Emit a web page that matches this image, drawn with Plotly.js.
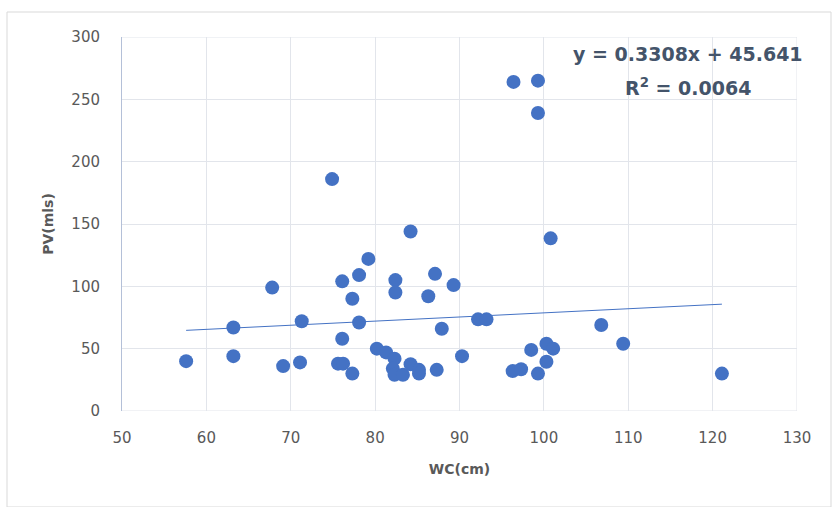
<!DOCTYPE html>
<html>
<head>
<meta charset="utf-8">
<script src="https://cdn.plot.ly/plotly-3.0.1.min.js"></script>
<style>html,body{margin:0;padding:0;background:#fff;}#chart{width:832px;height:507px;}</style>
</head>
<body>
<div id="chart"></div>
<script>
const wc = [57.6,63.2,63.2,67.8,69.1,71.3,71.1,74.9,75.6,76.2,76.1,76.1,77.3,77.3,78.1,78.1,79.2,80.2,81.3,82.3,82.1,82.3,83.3,82.4,82.4,84.2,84.2,85.2,85.2,86.3,87.1,87.3,87.9,89.3,90.3,92.2,93.2,96.4,96.3,97.3,98.5,99.3,99.3,99.3,100.3,101.1,100.3,100.8,106.8,109.4,121.1];
const pv = [40,67,44,99,36,72,39,186,38,38,104,58,90,30,109,71,122,50,47,42,34,29,29,105,95,144,37.5,33,30,92,110,33,66,101,44,73.5,73.5,264,32,33.5,49,265,239,30,54,50,39.5,138.5,69,54,30];
const slope = 0.3308, intercept = 45.641;
const eqText = "y = 0.3308x + 45.641";
const r2Text = "R<sup>2</sup> = 0.0064";
const xTicks = [50,60,70,80,90,100,110,120,130];
const yTicks = [0,50,100,150,200,250,300];

const xMin = Math.min(...wc), xMax = Math.max(...wc);
const trendX = [xMin, xMax];
const trendY = trendX.map(x => slope*x + intercept);

const data = [
  {x: wc, y: pv, type:'scatter', mode:'markers', marker:{color:'#4472C4', size:14}, hoverinfo:'skip'},
  {x: trendX, y: trendY, type:'scatter', mode:'lines', line:{color:'#4472C4', width:1}, hoverinfo:'skip'}
];
const FONT = 'DejaVu Sans, Arial, sans-serif';
const tickFont = {family:FONT, size:15, color:'#595959'};
const grid = '#e2e5eb';
const layout = {
  width:832, height:507,
  margin:{l:122, r:35, t:37, b:96},
  paper_bgcolor:'#fff', plot_bgcolor:'#fff',
  showlegend:false,
  xaxis:{range:[50,130], tickvals:xTicks, ticktext:xTicks.map(String), showgrid:true, gridcolor:grid, gridwidth:1,
    zeroline:false, showline:false, ticks:'', tickfont:tickFont, ticklabelstandoff:16, automargin:false,
    title:{text:'<b>WC(cm)</b>', font:{family:FONT, size:14, color:'#595959'}, standoff:18}},
  yaxis:{range:[0,300], tickvals:yTicks, ticktext:yTicks.map(String), showgrid:true, gridcolor:grid, gridwidth:1,
    zeroline:false, showline:true, linecolor:'#b4c0d8', linewidth:1, ticks:'', tickfont:tickFont, ticklabelstandoff:18, automargin:false,
    title:{text:'<b>PV(mls)</b>', font:{family:FONT, size:14, color:'#595959'}, standoff:14}},
  shapes:[
    {type:'rect', xref:'paper', yref:'paper', x0:(7-122)/675, x1:(831-122)/675, y0:-(507-411)/374, y1:1+(37-12)/374,
     line:{color:'#d9d9d9', width:1}, fillcolor:'rgba(0,0,0,0)'},
    {type:'line', xref:'x', yref:'paper', x0:130, x1:130, y0:0, y1:1, line:{color:grid, width:1}},
    {type:'line', xref:'paper', yref:'y', x0:0, x1:1, y0:300, y1:300, line:{color:grid, width:1}},
    {type:'line', xref:'paper', yref:'y', x0:0, x1:1, y0:0, y1:0, line:{color:grid, width:1}}
  ],
  annotations:[
    {xref:'x', yref:'y', x:117.1, y:286, text:'<b>'+eqText+'</b>', showarrow:false, xanchor:'center', yanchor:'middle',
     font:{family:FONT, size:19, color:'#44546A'}},
    {xref:'x', yref:'y', x:117.1, y:259.5, text:'<b>'+r2Text+'</b>', showarrow:false, xanchor:'center', yanchor:'middle',
     font:{family:FONT, size:19, color:'#44546A'}}
  ]
};
Plotly.newPlot('chart', data, layout, {staticPlot:true, displayModeBar:false});
</script>
</body>
</html>
